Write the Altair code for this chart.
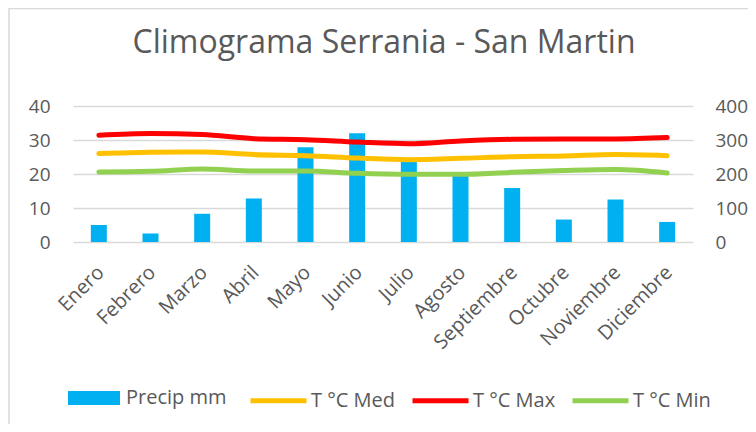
import altair as alt
import pandas as pd

months = ["Enero", "Febrero", "Marzo", "Abril", "Mayo", "Junio", "Julio",
          "Agosto", "Septiembre", "Octubre", "Noviembre", "Diciembre"]
precip = [50, 25, 83, 128, 279, 320, 240, 197, 159, 66, 125, 59]
t_med = [26.0, 26.4, 26.5, 25.7, 25.4, 24.7, 24.2, 24.6, 25.1, 25.3, 25.7, 25.4]
t_max = [31.4, 31.9, 31.6, 30.4, 30.1, 29.4, 28.9, 29.7, 30.2, 30.3, 30.3, 30.7]
t_min = [20.6, 20.8, 21.5, 20.9, 20.9, 20.2, 19.9, 19.9, 20.5, 21.0, 21.3, 20.3]

series_names = ["T °C Med", "T °C Max", "T °C Min"]
series_colors = ["#FFC000", "#FF0000", "#92D050"]
bar_name = "Precip mm"
bar_color = "#00B0F0"
temp_ticks = [0, 10, 20, 30, 40]
precip_ticks = [0, 100, 200, 300, 400]
title_text = "Climograma Serrania - San Martin"

FONT = "Open Sans"
GREY = "#595959"
GRID = "#D9D9D9"

bars_df = pd.DataFrame({"Mes": months, "Precip": precip, "Serie": bar_name})
rows = []
for name, vals in zip(series_names, [t_med, t_max, t_min]):
    for m, v in zip(months, vals):
        rows.append({"Mes": m, "Temp": v, "Serie": name})
lines_df = pd.DataFrame(rows)

x_enc = alt.X(
    "Mes:N", sort=months,
    scale=alt.Scale(paddingInner=0, paddingOuter=0),
    axis=alt.Axis(title=None, labelAngle=-45, domain=False, ticks=False,
                  labelFont=FONT, labelFontSize=20, labelColor=GREY,
                  labelPadding=20, labelOffset=-5),
)

frame = alt.Chart(pd.DataFrame({"a": [0]})).mark_rect(
    fillOpacity=0, stroke=GRID, strokeWidth=1.5
).encode(x=alt.value(-64), x2=alt.value(720), y=alt.value(-97.5), y2=alt.value(420))

title = alt.Chart(pd.DataFrame({"t": [title_text]})).mark_text(
    font=FONT, fontSize=32, color=GREY, align="center", baseline="alphabetic"
).encode(text="t:N", x=alt.value(311), y=alt.value(-53))

bars = alt.Chart(bars_df).mark_bar(size=16).encode(
    x=x_enc,
    y=alt.Y("Precip:Q", scale=alt.Scale(domain=[0, 400]),
            axis=alt.Axis(orient="right", values=precip_ticks, grid=False,
                          domain=False, ticks=False, title=None,
                          labelFont=FONT, labelFontSize=19, labelColor=GREY,
                          labelPadding=22)),
    fill=alt.Fill("Serie:N", scale=alt.Scale(domain=[bar_name], range=[bar_color]),
                  legend=alt.Legend(title=None, orient="none", legendX=-5, legendY=266,
                                    direction="horizontal",
                                    symbolType="M-1,-0.27H1V0.27H-1Z",
                                    symbolSize=2704, symbolStrokeWidth=0,
                                    labelFont=FONT, labelFontSize=20, labelColor=GREY,
                                    labelOffset=6, padding=0)),
)

lines = alt.Chart(lines_df).mark_line(
    interpolate="monotone", strokeWidth=5, strokeCap="round"
).encode(
    x=x_enc,
    y=alt.Y("Temp:Q", scale=alt.Scale(domain=[0, 40]),
            axis=alt.Axis(orient="left", values=temp_ticks, grid=True,
                          gridColor=GRID, gridWidth=1.5, domain=False, ticks=False,
                          title=None, labelFont=FONT, labelFontSize=19,
                          labelColor=GREY, labelPadding=23)),
    stroke=alt.Stroke("Serie:N", sort=series_names,
                      scale=alt.Scale(domain=series_names, range=series_colors),
                      legend=alt.Legend(title=None, orient="none", legendX=175, legendY=264,
                                        direction="horizontal", symbolType="stroke",
                                        symbolSize=3136, symbolStrokeWidth=5,
                                        labelFont=FONT, labelFontSize=20, labelColor=GREY,
                                        labelOffset=2, columnPadding=6, padding=0)),
)

chart = alt.layer(frame, title, bars, lines).resolve_scale(
    y="independent", fill="independent", stroke="independent"
).properties(
    width=620, height=136,
    autosize=alt.AutoSizeParams(type="none"),
    padding={"left": 65, "top": 98, "right": 55, "bottom": 182},
).configure_view(strokeWidth=0)

chart.save("out.html", embed_options={"renderer": "svg", "actions": False})
